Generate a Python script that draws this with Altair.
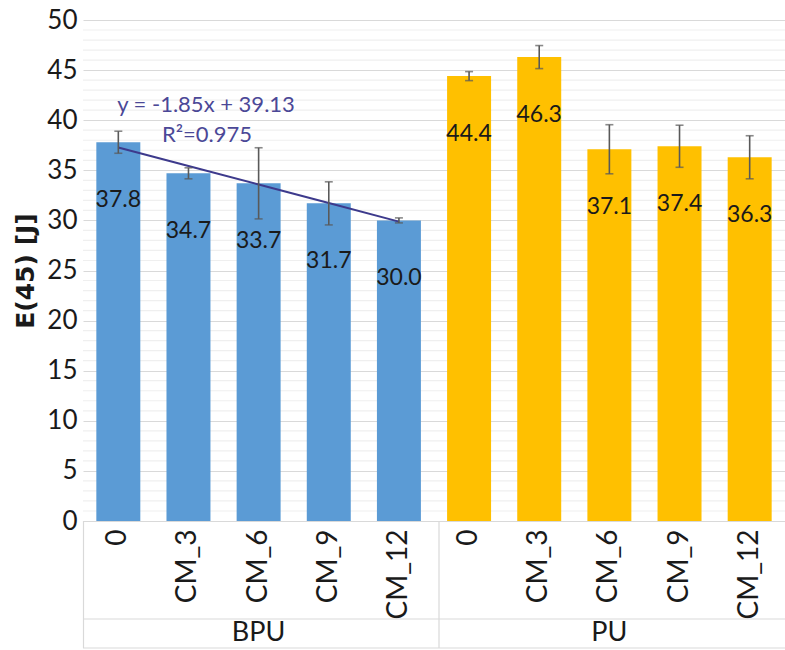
import altair as alt
import pandas as pd

# Impact energy E(45) per material group and additive level
groups = ["BPU"] * 5 + ["PU"] * 5
levels = ["0", "CM_3", "CM_6", "CM_9", "CM_12"] * 2
means = [37.8, 34.7, 33.7, 31.7, 30.0, 44.4, 46.3, 37.1, 37.4, 36.3]
errors = [1.1, 0.55, 3.55, 2.15, 0.25, 0.45, 1.15, 2.45, 2.1, 2.15]

# Linear trend fitted to the BPU series (x = 1..5)
trend_slope = -1.85
trend_intercept = 39.13
trend_r2 = 0.975

# Axis ticks: labelled major steps and unlabelled minor grid steps
major_ticks = list(range(0, 51, 5))
minor_ticks = [v for v in range(0, 51) if v % 5 != 0]

W, H = 702, 501
FONT = "Lato"
BLUE, YELLOW = "#5B9BD5", "#FFC000"

df = pd.DataFrame({"group": groups, "level": levels, "mean": means, "err": errors})
df["key"] = df["group"] + "|" + df["level"]
df["lo"] = df["mean"] - df["err"]
df["hi"] = df["mean"] + df["err"]
df["label"] = df["mean"].map(lambda v: f"{v:.1f}")
order = list(df["key"])

bpu = df[df["group"] == "BPU"].reset_index(drop=True)
trend = pd.DataFrame({
    "key": bpu["key"],
    "fit": [trend_slope * (i + 1) + trend_intercept for i in range(len(bpu))],
})

x_scale = alt.Scale(domain=order, paddingInner=0.373, paddingOuter=0.19)
y_scale = alt.Scale(domain=[0, 50], nice=False)

x_enc = alt.X(
    "key:N", sort=order, scale=x_scale, title=None,
    axis=alt.Axis(
        labelExpr="split(datum.value, '|')[1]",
        labelAngle=-90, labelAlign="right", labelBaseline="middle",
        labelPadding=8, labelFontSize=28, labelFont=FONT, labelColor="#1a1a1a",
        ticks=False, domainColor="#d9d9d9", domainWidth=1.2, labelOverlap=False,
    ),
)

y_axis = alt.Axis(
    values=major_ticks,
    labelOverlap=False,
    labelFontSize=26, labelFont=FONT, labelColor="#1a1a1a", labelPadding=6,
    ticks=False, domain=False,
    gridColor="#d9d9d9", gridWidth=1.2,
    title="E(45) [J]", titleFont="DejaVu Sans", titleFontSize=25, titleFontWeight="bold",
    titleColor="#1a1a1a", titleAngle=-90, titleX=-58, titleY=H / 2,
    titleAlign="center", titleBaseline="middle",
)

minor_grid = alt.Chart(pd.DataFrame({"v": minor_ticks})).mark_rule(
    color="#efefef", strokeWidth=1.2
).encode(
    y=alt.Y("v:Q", scale=y_scale),
    x=alt.value(0), x2=alt.value(W),
)

base = alt.Chart(df)

bars = base.mark_bar().encode(
    x=x_enc,
    y=alt.Y("mean:Q", scale=y_scale, axis=y_axis),
    color=alt.Color("group:N", scale=alt.Scale(domain=["BPU", "PU"], range=[BLUE, YELLOW]),
                    legend=None),
)

err_rule = base.mark_rule(color="#595959", strokeWidth=1.6).encode(
    x=alt.X("key:N", sort=order, scale=x_scale),
    y=alt.Y("lo:Q", scale=y_scale),
    y2="hi:Q",
)
err_cap_hi = base.mark_tick(color="#595959", thickness=1.6, size=8, orient="horizontal").encode(
    x=alt.X("key:N", sort=order, scale=x_scale),
    y=alt.Y("hi:Q", scale=y_scale),
)
err_cap_lo = base.mark_tick(color="#595959", thickness=1.6, size=8, orient="horizontal").encode(
    x=alt.X("key:N", sort=order, scale=x_scale),
    y=alt.Y("lo:Q", scale=y_scale),
)

values = base.mark_text(font=FONT, fontSize=23, color="#1a1a1a", baseline="middle", dy=58).encode(
    x=alt.X("key:N", sort=order, scale=x_scale),
    y=alt.Y("mean:Q", scale=y_scale),
    text="label:N",
)

trend_line = alt.Chart(trend).mark_line(color="#3d3a8c", strokeWidth=2).encode(
    x=alt.X("key:N", sort=order, scale=x_scale),
    y=alt.Y("fit:Q", scale=y_scale),
)

eq_text = f"y = {trend_slope}x + {trend_intercept}"
r2_text = f"R²={trend_r2}"
trend_label = alt.Chart(pd.DataFrame({"t": [eq_text]})).mark_text(
    font=FONT, fontSize=22, color="#4b4897", align="center", baseline="middle"
).encode(x=alt.value(123), y=alt.value(85), text="t:N")
r2_label = alt.Chart(pd.DataFrame({"t": [r2_text]})).mark_text(
    font=FONT, fontSize=22, color="#4b4897", align="center", baseline="middle"
).encode(x=alt.value(124), y=alt.value(115), text="t:N")

# Group label row beneath the category axis
grp = pd.DataFrame({"group": ["BPU", "PU"], "key": ["BPU|CM_6", "PU|CM_6"]})
group_labels = alt.Chart(grp).mark_text(
    font=FONT, fontSize=27, color="#1a1a1a", baseline="middle"
).encode(
    x=alt.X("key:N", sort=order, scale=x_scale),
    y=alt.value(H + 112),
    text="group:N",
)

box_color = "#d9d9d9"
vlines = alt.Chart(pd.DataFrame({"px": [0.5, 356]})).mark_rule(color=box_color, strokeWidth=1.2).encode(
    x=alt.X("px:Q", scale=None), y=alt.value(H), y2=alt.value(H + 127),
)
hlines = alt.Chart(pd.DataFrame({"py": [H + 98, H + 127]})).mark_rule(color=box_color, strokeWidth=1.2).encode(
    y=alt.Y("py:Q", scale=None), x=alt.value(0), x2=alt.value(W),
)

chart = alt.layer(
    minor_grid, bars, trend_line, err_rule, err_cap_hi, err_cap_lo, values,
    trend_label, r2_label, group_labels, vlines, hlines,
).properties(
    width=W, height=H,
    autosize=alt.AutoSizeParams(type="none"),
    padding={"left": 83, "top": 20, "right": 0, "bottom": 129},
).configure_view(stroke=None)

chart.save("out.html", embed_options={"renderer": "svg", "actions": False})
